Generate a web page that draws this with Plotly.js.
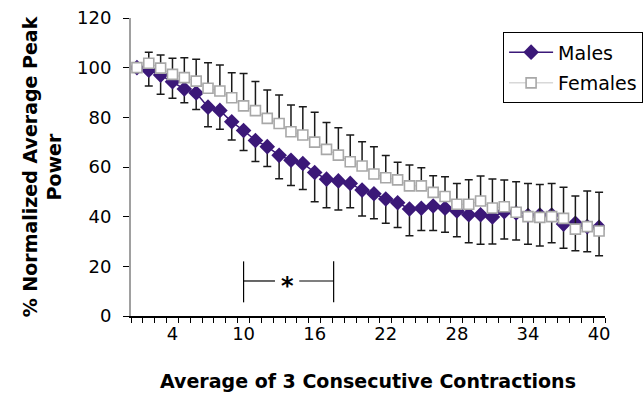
<!DOCTYPE html>
<html>
<head>
<meta charset="utf-8">
<script src="https://cdn.plot.ly/plotly-3.0.1.min.js"></script>
<style>html,body{margin:0;padding:0;background:#fff;}#chart{width:644px;height:408px;}</style>
</head>
<body>
<div id="chart"></div>
<script>
const contractions = Array.from({length: 40}, (_, i) => i + 1);
const tickValues = [4, 10, 16, 22, 28, 34, 40];
const tickLabels = ["4", "10", "16", "22", "28", "34", "40"];

const malesMean = [100, 99, 97, 94.3, 91.4, 89.8, 84.1, 82.8, 78.2, 74.7,
  70.7, 68.2, 64.7, 62.7, 61.4, 57.8, 55.1, 54.4, 53.4, 50.7,
  49.2, 47.1, 45.6, 43.1, 43.4, 44.3, 43.4, 42.3, 40.8, 40.8,
  39.9, 42, 41.5, 40.5, 40.7, 40.7, 37, 37.3, 36, 35.7];
const malesErr = [0, 6.4, 7.7, 6.6, 5.5, 6.6, 7.9, 7.6, 7.3, 8.1,
  8.5, 8, 9.4, 10.1, 10.5, 11.8, 11.5, 11.7, 9.8, 10.4,
  10, 9.8, 10, 10.8, 9, 9.9, 9.7, 10.4, 11.3, 11.9,
  10.9, 11, 10.9, 11.6, 12.5, 11.2, 9.7, 11, 10.1, 11.4];

const femalesMean = [100, 101.8, 99.8, 97.3, 96, 94.6, 91.7, 90.6, 87.9, 84.6,
  82.7, 79.6, 77.5, 74.2, 72.9, 70, 67.1, 64.8, 62.1, 60.4,
  57.2, 55.7, 54.8, 52.4, 52.4, 49.8, 48.1, 45, 45, 46.3,
  43.5, 44, 41.8, 40, 39.7, 40, 39.3, 35, 36, 34.2];
const femalesErr = [0, 4.4, 5.3, 6.5, 8, 8.8, 10.3, 10.5, 10.1, 13.1,
  11.7, 11.4, 11.5, 10.8, 11.4, 12, 10.8, 11, 10.8, 9.8,
  11, 8.9, 7.1, 8.4, 7.3, 6.7, 8, 8.4, 9.9, 10.1,
  11.7, 10.8, 12.3, 13.4, 13.3, 13.4, 12.5, 13.3, 14.3, 15.6];

// significance bracket (category range and level)
const sigStart = 10, sigEnd = 17.6, sigLevel = 14.1, sigLow = 5.5, sigHigh = 22;
const sigGapL = 12.65, sigGapR = 14.7;

const zeros = contractions.map(() => 0);
const FONT = "DejaVu Sans, Verdana, sans-serif";

const males = {
  x: contractions, y: malesMean, name: "Males", type: "scatter", mode: "lines+markers",
  legendgroup: "m",
  line: {color: "#3b1878", width: 1.5},
  marker: {symbol: "diamond", size: 12, color: "#3b1878"},
  error_y: {type: "data", symmetric: false, array: zeros, arrayminus: malesErr,
    color: "#1a1a1a", thickness: 1.5, width: 4}
};
const females = {
  x: contractions, y: femalesMean, name: "Females", type: "scatter", mode: "lines+markers",
  legendgroup: "f",
  line: {color: "#c4c4c4", width: 1},
  marker: {symbol: "square", size: 10, color: "#ffffff", line: {color: "#a8a8a8", width: 1.6}},
  error_y: {type: "data", symmetric: false, array: femalesErr, arrayminus: zeros,
    color: "#1a1a1a", thickness: 1.5, width: 4}
};

const lineStyle = {color: "#000", width: 1.2};
const layout = {
  width: 644, height: 408,
  margin: {l: 131, r: 39, t: 18, b: 92, autoexpand: false},
  paper_bgcolor: "#fff", plot_bgcolor: "#fff",
  font: {family: FONT, color: "#000", size: 18},
  showlegend: true,
  legend: {x: 0.785, y: 0.952, xanchor: "left", yanchor: "top",
    bordercolor: "#000", borderwidth: 1, bgcolor: "#fff",
    font: {family: FONT, size: 19}, traceorder: "grouped", tracegroupgap: 3, itemwidth: 44},
  xaxis: {
    range: [0.5, 40.5], tickmode: "array", tickvals: tickValues, ticktext: tickLabels,
    ticks: "", showgrid: false, zeroline: false, automargin: false,
    showline: true, linecolor: "#000", linewidth: 1.5,
    minor: {tick0: 0.5, dtick: 1, ticks: "outside", ticklen: 5, tickcolor: "#000", tickwidth: 1, showgrid: false},
    tickfont: {size: 18}, ticklabelstandoff: 1,
    title: {text: "<b>Average of 3 Consecutive Contractions</b>", font: {size: 19}, standoff: 31}
  },
  yaxis: {
    range: [0, 120], dtick: 20, ticks: "outside", ticklen: 6, tickcolor: "#000", tickwidth: 1,
    showgrid: false, zeroline: false, automargin: false,
    showline: true, linecolor: "#a0a0a0", linewidth: 2,
    tickfont: {size: 18}, ticklabelstandoff: 8,
    title: {text: "<b>% Normalized Average Peak<br>Power</b>", font: {size: 19}, standoff: 10}
  },
  shapes: [
    {type: "line", xref: "x", yref: "y", x0: sigStart, x1: sigStart, y0: sigLow, y1: sigHigh, line: lineStyle},
    {type: "line", xref: "x", yref: "y", x0: sigEnd, x1: sigEnd, y0: sigLow, y1: sigHigh, line: lineStyle},
    {type: "line", xref: "x", yref: "y", x0: sigStart, x1: sigGapL, y0: sigLevel, y1: sigLevel, line: lineStyle},
    {type: "line", xref: "x", yref: "y", x0: sigGapR, x1: sigEnd, y0: sigLevel, y1: sigLevel, line: lineStyle}
  ],
  annotations: [
    {x: (sigGapL + sigGapR) / 2, y: sigLevel, xref: "x", yref: "y", text: "<b>*</b>",
     showarrow: false, font: {size: 24, family: FONT}, yshift: -5}
  ]
};

Plotly.newPlot("chart", [males, females], layout, {displayModeBar: false, staticPlot: true});
</script>
</body>
</html>
